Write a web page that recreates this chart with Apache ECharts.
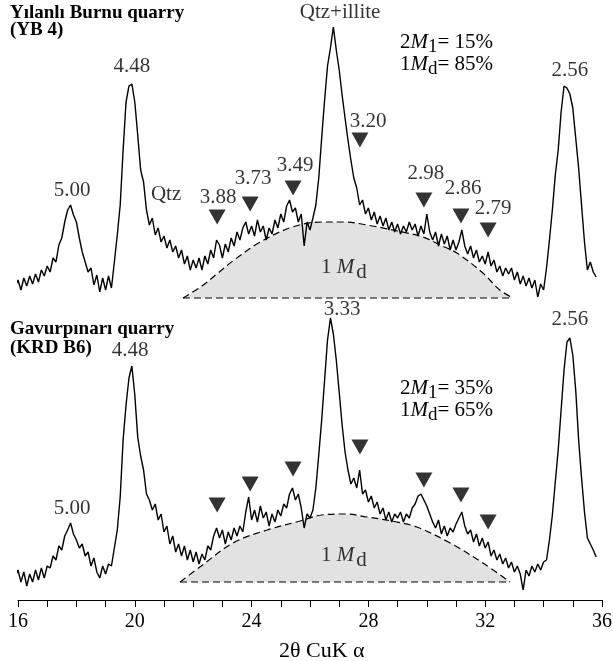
<!DOCTYPE html>
<html>
<head>
<meta charset="utf-8">
<script src="https://cdn.jsdelivr.net/npm/echarts@6/dist/echarts.min.js"></script>
<style>
html, body { margin: 0; padding: 0; background: #fff; }
#chart { width: 613px; height: 661px; }
</style>
</head>
<body>
<div id="chart"></div>
<script>
// 2θ scan grid (degrees, CuKα), fixed instrument step
const scanStart = 15.9;
const scanStep = 0.1;

// Yılanlı Burnu quarry (YB 4) — intensity, arbitrary units, one value per step
const ybIntensity = [
  13, 20, 10, 22, 14, 24, 16, 26, 18, 30, 24, 34, 28, 42, 38, 55, 62, 78, 90, 95,
  85, 78, 62, 48, 38, 28, 32, 15, 25, 8, 22, 10, 24, 12, 38, 65, 95, 150, 198, 214,
  216, 198, 165, 130, 118, 90, 75, 82, 65, 72, 58, 64, 52, 60, 48, 54, 42, 50, 36, 44,
  30, 40, 32, 42, 30, 44, 36, 50, 42, 60, 55, 42, 56, 48, 62, 54, 68, 60, 72, 78,
  66, 74, 64, 80, 68, 74, 60, 72, 66, 80, 72, 86, 78, 94, 100, 88, 92, 78, 86, 54,
  78, 70, 82, 95, 122, 162, 200, 234, 252, 273, 250, 230, 205, 182, 160, 140, 122, 112, 95, 100,
  86, 92, 80, 88, 76, 84, 74, 82, 70, 78, 68, 76, 66, 74, 68, 78, 70, 76, 64, 74,
  66, 86, 68, 60, 68, 54, 66, 56, 64, 50, 60, 50, 58, 70, 54, 46, 54, 42, 50, 38,
  44, 36, 48, 34, 40, 28, 34, 24, 32, 26, 32, 20, 28, 16, 24, 14, 22, 12, 20, 3,
  16, 10, 32, 60, 90, 125, 150, 188, 214, 212, 206, 192, 162, 132, 95, 58, 30, 38, 28, 23
];

// Gavurpınarı quarry (KRD B6) — intensity, arbitrary units, one value per step
const krdIntensity = [
  23, 30, 18, 28, 14, 26, 18, 30, 20, 32, 22, 34, 32, 44, 40, 54, 50, 64, 70, 77,
  66, 60, 52, 56, 44, 48, 34, 42, 28, 22, 34, 26, 36, 34, 52, 70, 103, 160, 195, 222,
  234, 205, 163, 144, 130, 106, 100, 90, 96, 80, 86, 68, 74, 56, 64, 48, 56, 44, 54, 40,
  50, 38, 48, 36, 46, 40, 54, 50, 64, 72, 62, 70, 56, 68, 60, 72, 64, 74, 68, 88,
  103, 80, 90, 78, 94, 82, 88, 74, 86, 78, 90, 84, 96, 92, 106, 112, 100, 106, 92, 72,
  86, 82, 90, 112, 145, 180, 220, 260, 282, 266, 240, 208, 175, 148, 130, 116, 122, 112, 130, 106,
  110, 98, 104, 92, 98, 86, 92, 80, 88, 78, 86, 82, 88, 78, 86, 82, 92, 96, 104, 106,
  100, 94, 86, 78, 72, 80, 66, 74, 64, 72, 68, 76, 82, 88, 74, 66, 70, 58, 66, 54,
  62, 52, 58, 44, 50, 40, 46, 36, 42, 32, 38, 28, 34, 26, 10, 30, 24, 34, 28, 36,
  30, 38, 40, 60, 85, 118, 150, 190, 230, 258, 262, 245, 210, 160, 122, 88, 62, 56, 50, 43
];

// 1Md broad hump (dashed envelope) for each pattern: 2θ and intensity
const ybHumpTheta = [21.65, 22.3, 22.85, 23.4, 24.3, 25.4, 26.4, 27.2, 27.95, 29.0, 29.87, 30.45, 31.03, 31.92, 32.5, 32.95];
const ybHumpValue = [2, 14, 27, 40, 58, 73, 78, 78, 75, 69, 63, 55, 47, 27, 10, 2];
const ybHumpBase = 2;
const krdHumpTheta = [21.55, 22.23, 23.36, 24.53, 25.66, 26.4, 27.2, 27.95, 28.8, 29.66, 30.8, 31.92, 32.85];
const krdHumpValue = [18, 33, 57, 70, 79, 85, 86, 83, 79, 73, 57, 37, 18];
const krdHumpBase = 18;

// 2M1 reflections (d-spacings, Å) marked with triangles
const reflectionLabels = ['3.88', '3.73', '3.49', '3.20', '2.98', '2.86', '2.79'];
const reflectionTheta = [22.82, 23.95, 25.42, 27.71, 29.9, 31.17, 32.1];
const ybMarkerValue = [83, 96, 112, 160, 100, 84, 70];
const krdMarkerValue = [95, 116, 131, 153, 120, 105, 78];

// Peak annotations: text with its anchor in (2θ, intensity)
const ybPeakText = ['5.00', '4.48', 'Qtz', 'Qtz+illite', '2.56',
                    '3.88', '3.73', '3.49', '3.20', '2.98', '2.86', '2.79'];
const ybPeakAnchor = [[17.85, 110], [19.9, 234], [21.07, 106], [27.03, 288], [34.9, 230],
                      [22.85, 103], [24.05, 122], [25.49, 135], [27.99, 179], [29.97, 127], [31.24, 112], [32.27, 92]];
const krdPeakText = ['5.00', '4.48', '3.33', '2.56'];
const krdPeakAnchor = [[17.85, 92], [19.84, 250], [27.1, 291], [34.9, 281]];

// Axis ticks
const thetaMin = 16, thetaMax = 36, thetaInterval = 4;

const serif = '"Liberation Serif", "Times New Roman", serif';

function scanPairs(values) {
  return values.map((v, i) => [+(scanStart + i * scanStep).toFixed(2), v]);
}
function zipPairs(xs, ys) {
  return xs.map((x, i) => [x, ys[i]]);
}

function patternSeries(idx, intensity, humpTheta, humpValue, humpBase, markerValue, peakText, peakAnchor) {
  return [
    {
      type: 'line', xAxisIndex: idx, yAxisIndex: idx,
      data: zipPairs(humpTheta, humpValue),
      smooth: 0.35, symbol: 'none', clip: false, z: 1,
      lineStyle: { color: '#000', width: 1.2, type: [7, 4] },
      areaStyle: { color: '#e2e2e2', opacity: 1, origin: humpBase }
    },
    {
      type: 'line', xAxisIndex: idx, yAxisIndex: idx,
      data: [[humpTheta[0], humpBase], [humpTheta[humpTheta.length - 1], humpBase]],
      symbol: 'none', clip: false, z: 1,
      lineStyle: { color: '#000', width: 1.2, type: [7, 4] }
    },
    {
      type: 'line', xAxisIndex: idx, yAxisIndex: idx,
      data: scanPairs(intensity),
      symbol: 'none', clip: false, z: 3,
      lineStyle: { color: '#000', width: 1.4 }
    },
    {
      type: 'scatter', xAxisIndex: idx, yAxisIndex: idx,
      data: zipPairs(reflectionTheta, markerValue),
      symbol: 'triangle', symbolRotate: 180, symbolSize: [17, 15], clip: false, z: 4,
      itemStyle: { color: '#000' }
    },
    {
      type: 'scatter', xAxisIndex: idx, yAxisIndex: idx,
      data: peakText.map((t, i) => ({ name: t, value: peakAnchor[i] })),
      symbolSize: 1, clip: false, z: 5,
      itemStyle: { color: 'rgba(0,0,0,0)' },
      label: {
        show: true, position: 'inside', formatter: '{b}',
        fontFamily: serif, fontSize: 21, color: '#000'
      }
    },
    {
      type: 'scatter', xAxisIndex: idx, yAxisIndex: idx,
      data: [{ name: '1Md', value: [27.16, idx === 0 ? 30 : 42] }],
      symbolSize: 1, clip: false, z: 5,
      itemStyle: { color: 'rgba(0,0,0,0)' },
      label: {
        show: true, position: 'inside',
        formatter: '{n|1 }{i|M}{s|d}',
        rich: {
          n: { fontFamily: serif, fontSize: 21, color: '#000', verticalAlign: 'top' },
          i: { fontFamily: serif, fontSize: 21, fontStyle: 'italic', color: '#000', verticalAlign: 'top' },
          s: { fontFamily: serif, fontSize: 21, color: '#000', verticalAlign: 'top', padding: [5, 0, 0, 2] }
        }
      }
    }
  ];
}

const compRich = {
  n: { fontFamily: serif, fontSize: 21, fill: '#000', verticalAlign: 'top' },
  i: { fontFamily: serif, fontSize: 21, fontStyle: 'italic', fill: '#000', verticalAlign: 'top' },
  s: { fontFamily: serif, fontSize: 19, fill: '#000', verticalAlign: 'top', padding: [6, 0, 0, 0] }
};
function compText(left, top, num, sub, value) {
  return {
    type: 'text', left: left, top: top, z: 10,
    style: { text: '{n|' + num + '}{i|M}{s|' + sub + '}{n|= ' + value + '}', rich: compRich }
  };
}
function titleText(left, top, text) {
  return {
    type: 'text', left: left, top: top, z: 10,
    style: { text: text, fontFamily: serif, fontSize: 19, fontWeight: 'bold', fill: '#000' }
  };
}

const chart = echarts.init(document.getElementById('chart'), null, { renderer: 'canvas' });

chart.setOption({
  animation: false,
  backgroundColor: '#fff',
  grid: [
    { left: 18, right: 11, top: 0, height: 300, containLabel: false, outerBoundsMode: 'none' },
    { left: 18, right: 11, top: 300, height: 300, containLabel: false, outerBoundsMode: 'none' }
  ],
  xAxis: [
    { gridIndex: 0, type: 'value', min: thetaMin, max: thetaMax, interval: thetaInterval, show: false },
    {
      gridIndex: 1, type: 'value', min: thetaMin, max: thetaMax, interval: thetaInterval,
      axisLine: { show: true, onZero: false, lineStyle: { color: '#000', width: 1 } },
      axisTick: { show: true, length: 7, lineStyle: { color: '#000', width: 1 } },
      minorTick: { show: true, splitNumber: 4, length: 7, lineStyle: { color: '#000', width: 1 } },
      splitLine: { show: false },
      minorSplitLine: { show: false },
      axisLabel: {
        show: true, margin: 12, fontFamily: serif, fontSize: 20, color: '#000',
        showMinLabel: true, showMaxLabel: true
      }
    }
  ],
  yAxis: [
    { gridIndex: 0, type: 'value', min: 0, max: 300, show: false },
    { gridIndex: 1, type: 'value', min: 0, max: 300, show: false }
  ],
  series: [].concat(
    patternSeries(0, ybIntensity, ybHumpTheta, ybHumpValue, ybHumpBase, ybMarkerValue, ybPeakText, ybPeakAnchor),
    patternSeries(1, krdIntensity, krdHumpTheta, krdHumpValue, krdHumpBase, krdMarkerValue, krdPeakText, krdPeakAnchor)
  ),
  graphic: [
    titleText(10, 4, 'Yılanlı Burnu quarry'),
    titleText(10, 21, '(YB 4)'),
    titleText(10, 320, 'Gavurpınarı quarry'),
    titleText(10, 339, '(KRD B6)'),
    compText(400, 32, '2', '1', '15%'),
    compText(400, 54, '1', 'd', '85%'),
    compText(400, 378, '2', '1', '35%'),
    compText(400, 400, '1', 'd', '65%'),
    {
      type: 'text', left: 279, top: 640, z: 10,
      style: { text: '2θ CuK α', fontFamily: serif, fontSize: 22, fill: '#000' }
    }
  ]
});
</script>
</body>
</html>
